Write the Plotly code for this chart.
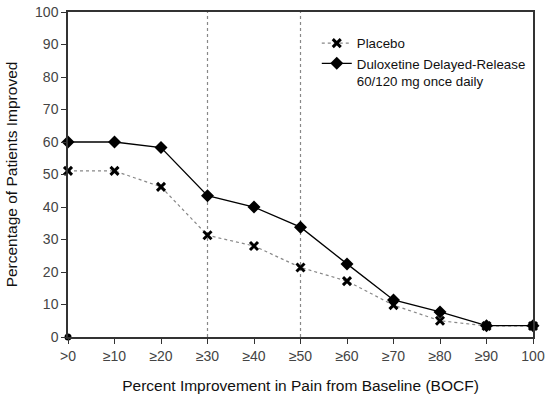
import plotly.graph_objects as go

categories = [">0", "≥10", "≥20", "≥30", "≥40", "≥50", "≥60", "≥70", "≥80", "≥90", "100"]
x_pos = [0, 10, 20, 30, 40, 50, 60, 70, 80, 90, 100]
placebo = [51.1, 51.1, 46.2, 31.3, 28.0, 21.4, 17.2, 9.8, 5.0, 3.4, 3.4]
duloxetine = [60.0, 60.0, 58.3, 43.5, 40.0, 33.8, 22.5, 11.4, 7.7, 3.5, 3.5]
ref_lines = [30, 50]

fig = go.Figure()

for xv in ref_lines:
    fig.add_vline(x=xv, line=dict(color="#888888", width=1.2, dash="dot"), layer="below")

fig.add_trace(go.Scatter(
    x=x_pos, y=placebo, name="Placebo", mode="lines+markers",
    line=dict(color="#888888", width=1.2, dash="dot"),
    marker=dict(symbol="x-thin", size=8, color="black", line=dict(width=3, color="black")),
))
fig.add_trace(go.Scatter(
    x=x_pos, y=duloxetine, name="Duloxetine Delayed-Release<br>60/120 mg once daily",
    mode="lines+markers",
    line=dict(color="black", width=1.3),
    marker=dict(symbol="diamond", size=10, color="black"),
))
fig.add_trace(go.Scatter(
    x=[x_pos[0]], y=[0], mode="markers", showlegend=False,
    marker=dict(symbol="circle", size=7, color="black"),
))

for tr in fig.data:
    tr.cliponaxis = False

fig.update_layout(
    width=549, height=397,
    margin=dict(l=68, r=16, t=12, b=60, autoexpand=False),
    paper_bgcolor="white", plot_bgcolor="white",
    font=dict(family="Liberation Sans, Arial, sans-serif", size=14, color="#222222"),
    showlegend=True,
    legend=dict(x=0.535, y=0.951, xanchor="left", yanchor="top", bgcolor="rgba(0,0,0,0)",
                font=dict(size=13.3, color="#111111"), valign="top", tracegroupgap=0,
                itemwidth=30),
    xaxis=dict(
        range=[0, 100], tickmode="array", tickvals=x_pos, ticktext=categories,
        ticks="outside", ticklen=5, tickcolor="#333333", showgrid=False, zeroline=False,
        showline=True, linecolor="#333333", linewidth=1.5, mirror=True, automargin=False,
        tickfont=dict(size=14, color="#444444"),
        title=dict(text="Percent Improvement in Pain from Baseline (BOCF)", font=dict(size=15.5, color="#111111"), standoff=18),
    ),
    yaxis=dict(
        range=[0, 100], tickmode="array", tickvals=list(range(0, 101, 10)),
        ticks="outside", ticklen=5, tickcolor="#333333", showgrid=False, zeroline=False,
        showline=True, linecolor="#333333", linewidth=1.5, mirror=True, automargin=False,
        tickfont=dict(size=14, color="#444444"),
        title=dict(text="Percentage of Patients Improved", font=dict(size=15.5, color="#111111"), standoff=14),
    ),
)

fig.write_html(
    "out.html",
    config={"displayModeBar": False},
    post_script="document.body.style.margin='0';document.body.style.padding='0';document.body.style.overflow='hidden';",
)
